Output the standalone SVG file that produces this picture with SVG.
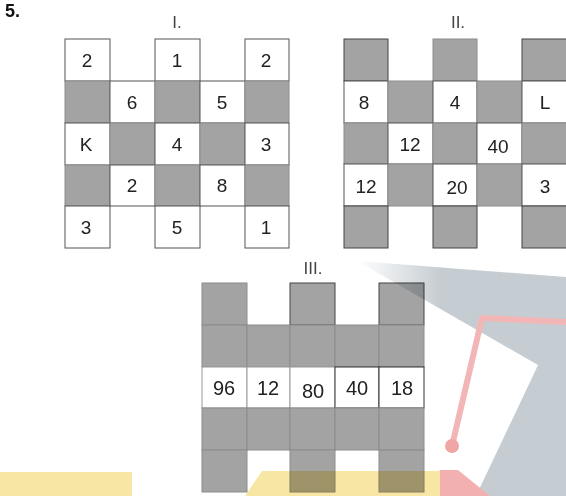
<svg xmlns="http://www.w3.org/2000/svg" width="566" height="496" viewBox="0 0 566 496">
<defs>
<linearGradient id="fade" x1="357" y1="0" x2="440" y2="0" gradientUnits="userSpaceOnUse">
<stop offset="0" stop-color="#c6cdd2" stop-opacity="0"/>
<stop offset="1" stop-color="#c6cdd2" stop-opacity="1"/>
</linearGradient>
</defs>
<style>
.w{fill:#fff;stroke:#555;stroke-width:1}
.g{fill:#a3a3a3;stroke:#8c8c8c;stroke-width:1}
.t{font-family:"Liberation Sans",Arial,sans-serif;font-size:19px;fill:#222;text-anchor:middle}
.h{font-family:"Liberation Sans",Arial,sans-serif;font-size:17px;fill:#444;text-anchor:middle}
</style>
<rect width="566" height="496" fill="#fff"/>
<text x="5" y="17" font-family="Liberation Sans,Arial,sans-serif" font-weight="bold" font-size="18" fill="#111">5.</text>

<g id="grid-I">
<text class="h" x="177" y="28">I.</text>
<rect class="w" x="65" y="39" width="45" height="42"/>
<rect class="w" x="155" y="39" width="45" height="42"/>
<rect class="w" x="245" y="39" width="44" height="42"/>
<rect class="g" x="65" y="81" width="45" height="42"/>
<rect class="w" x="110" y="81" width="45" height="42"/>
<rect class="g" x="155" y="81" width="45" height="42"/>
<rect class="w" x="200" y="81" width="45" height="42"/>
<rect class="g" x="245" y="81" width="44" height="42"/>
<rect class="w" x="65" y="123" width="45" height="42"/>
<rect class="g" x="110" y="123" width="45" height="42"/>
<rect class="w" x="155" y="123" width="45" height="42"/>
<rect class="g" x="200" y="123" width="45" height="42"/>
<rect class="w" x="245" y="123" width="44" height="42"/>
<rect class="g" x="65" y="165" width="45" height="41"/>
<rect class="w" x="110" y="165" width="45" height="41"/>
<rect class="g" x="155" y="165" width="45" height="41"/>
<rect class="w" x="200" y="165" width="45" height="41"/>
<rect class="g" x="245" y="165" width="44" height="41"/>
<rect class="w" x="65" y="206" width="45" height="42"/>
<rect class="w" x="155" y="206" width="45" height="42"/>
<rect class="w" x="245" y="206" width="44" height="42"/>
<text class="t" x="87" y="67">2</text>
<text class="t" x="177" y="67">1</text>
<text class="t" x="266" y="67">2</text>
<text class="t" x="132" y="109">6</text>
<text class="t" x="222" y="109">5</text>
<text class="t" x="86" y="151">K</text>
<text class="t" x="177" y="151">4</text>
<text class="t" x="266" y="151">3</text>
<text class="t" x="132" y="192">2</text>
<text class="t" x="222" y="192">8</text>
<text class="t" x="86" y="234">3</text>
<text class="t" x="177" y="234">5</text>
<text class="t" x="266" y="234">1</text>
</g>

<g id="grid-II">
<text class="h" x="458" y="28">II.</text>
<rect class="g" x="344" y="39" width="44" height="42" style="stroke:#444"/>
<rect class="g" x="433" y="39" width="44" height="42"/>
<rect class="g" x="522" y="39" width="50" height="42" style="stroke:#444"/>
<rect class="w" x="344" y="81" width="44" height="42"/>
<rect class="g" x="388" y="81" width="45" height="42"/>
<rect class="w" x="433" y="81" width="44" height="42"/>
<rect class="g" x="477" y="81" width="45" height="42"/>
<rect class="w" x="522" y="81" width="50" height="42"/>
<rect class="g" x="344" y="123" width="44" height="41"/>
<rect class="w" x="388" y="123" width="45" height="41"/>
<rect class="g" x="433" y="123" width="44" height="41"/>
<rect class="w" x="477" y="123" width="45" height="41"/>
<rect class="g" x="522" y="123" width="50" height="41"/>
<rect class="w" x="344" y="164" width="44" height="42"/>
<rect class="g" x="388" y="164" width="45" height="42"/>
<rect class="w" x="433" y="164" width="44" height="42"/>
<rect class="g" x="477" y="164" width="45" height="42"/>
<rect class="w" x="522" y="164" width="50" height="42"/>
<rect class="g" x="344" y="206" width="44" height="42" style="stroke:#444"/>
<rect class="g" x="433" y="206" width="44" height="42" style="stroke:#444"/>
<rect class="g" x="522" y="206" width="50" height="42" style="stroke:#444"/>
<text class="t" x="364" y="109">8</text>
<text class="t" x="455" y="109">4</text>
<text class="t" x="545" y="109">L</text>
<text class="t" x="410" y="151">12</text>
<text class="t" x="498" y="153">40</text>
<text class="t" x="366" y="193">12</text>
<text class="t" x="457" y="194">20</text>
<text class="t" x="545" y="193">3</text>
</g>

<g id="grid-III">
<text class="h" x="313" y="274">III.</text>
<rect class="g" x="202" y="283" width="45" height="42"/>
<rect class="g" x="290" y="283" width="45" height="42" style="stroke:#444"/>
<rect class="g" x="379" y="283" width="45" height="42" style="stroke:#444"/>
<rect class="g" x="202" y="325" width="45" height="42"/>
<rect class="g" x="247" y="325" width="43" height="42"/>
<rect class="g" x="290" y="325" width="45" height="42"/>
<rect class="g" x="335" y="325" width="44" height="42"/>
<rect class="g" x="379" y="325" width="45" height="42"/>
<rect class="w" x="202" y="367" width="45" height="41" style="stroke:#999"/>
<rect class="w" x="247" y="367" width="43" height="41" style="stroke:#999"/>
<rect class="w" x="290" y="367" width="45" height="41" style="stroke:#999"/>
<rect class="w" x="335" y="367" width="44" height="41" style="stroke:#333"/>
<rect class="w" x="379" y="367" width="45" height="41" style="stroke:#333"/>
<rect class="g" x="202" y="408" width="45" height="42"/>
<rect class="g" x="247" y="408" width="43" height="42"/>
<rect class="g" x="290" y="408" width="45" height="42"/>
<rect class="g" x="335" y="408" width="44" height="42"/>
<rect class="g" x="379" y="408" width="45" height="42"/>
<rect class="g" x="202" y="450" width="45" height="42"/>
<rect class="g" x="290" y="450" width="45" height="42"/>
<rect class="g" x="379" y="450" width="45" height="42"/>
<text class="t" x="224" y="395" style="font-size:20px">96</text>
<text class="t" x="268" y="395" style="font-size:20px">12</text>
<text class="t" x="313" y="398" style="font-size:20px">80</text>
<text class="t" x="357" y="395" style="font-size:20px">40</text>
<text class="t" x="402" y="395" style="font-size:20px">18</text>
</g>

<g id="watermark" style="mix-blend-mode:multiply">
<polygon points="357,261 566,277 566,496 476,496 538,365" fill="url(#fade)"/>
<polyline points="566,322 482,318 452,446" fill="none" stroke="#f2b6b6" stroke-width="6" stroke-linejoin="round"/>
<circle cx="452" cy="446" r="7" fill="#f1a5a5"/>
<polygon points="440,470 458,470 490,496 420,496" fill="#f3b0b0"/>
<rect x="0" y="472" width="132" height="24" fill="#f8e6a4"/>
<path d="M262,471 H440 V496 H245 Z" fill="#f8e6a4"/>
</g>
</svg>
